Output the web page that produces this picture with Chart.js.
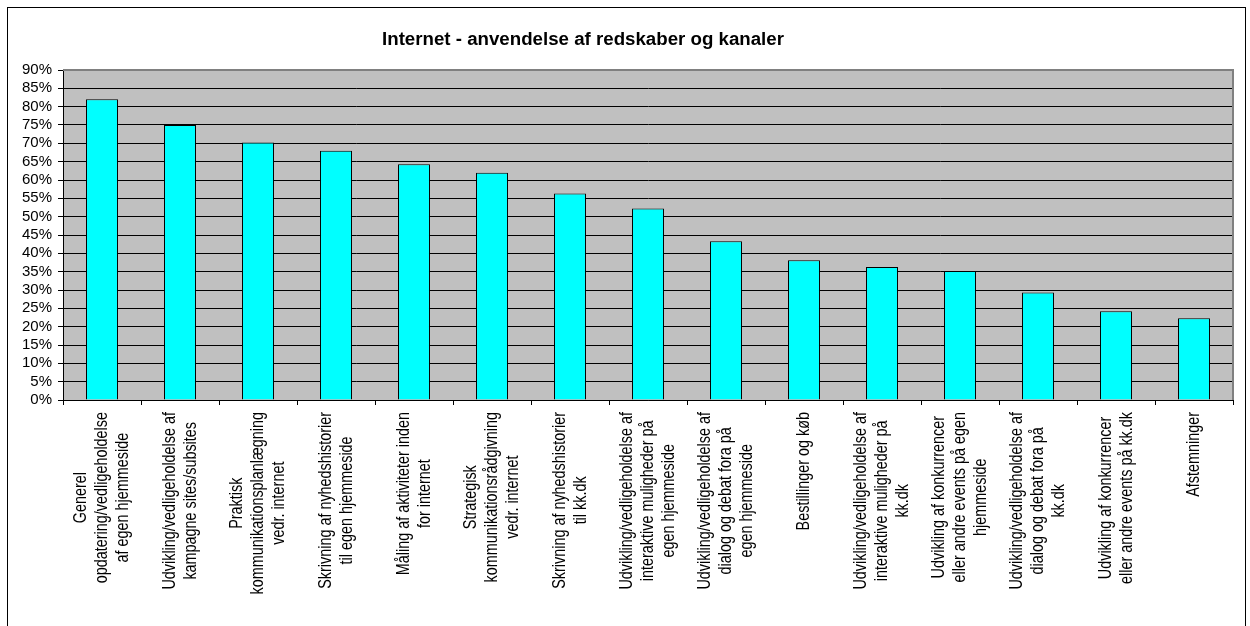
<!DOCTYPE html>
<html>
<head>
<meta charset="utf-8">
<script src="https://cdn.jsdelivr.net/npm/chart.js@4/dist/chart.umd.min.js"></script>
<style>
  html, body { margin: 0; padding: 0; background: #fff; }
  #wrap { width: 1250px; height: 626px; position: relative; }
</style>
</head>
<body>
<div id="wrap"><canvas id="c" width="1250" height="626"></canvas></div>
<script>
const chartTitle = "Internet - anvendelse af redskaber og kanaler";
const categories = [
  ["Generel", "opdatering/vedligeholdelse", "af egen hjemmeside"],
  ["Udvikling/vedligeholdelse af", "kampagne sites/subsites"],
  ["Praktisk", "kommunikationsplanlægning", "vedr. internet"],
  ["Skrivning af nyhedshistorier", "til egen hjemmeside"],
  ["Måling af aktiviteter inden", "for internet"],
  ["Strategisk", "kommunikationsrådgivning", "vedr. internet"],
  ["Skrivning af nyhedshistorier", "til kk.dk"],
  ["Udvikling/vedligeholdelse af", "interaktive muligheder på", "egen hjemmeside"],
  ["Udvikling/vedligeholdelse af", "dialog og debat fora på", "egen hjemmeside"],
  ["Bestillinger og køb"],
  ["Udvikling/vedligeholdelse af", "interaktive muligheder på", "kk.dk"],
  ["Udvikling af konkurrencer", "eller andre events på egen", "hjemmeside"],
  ["Udvikling/vedligeholdelse af", "dialog og debat fora på", "kk.dk"],
  ["Udvikling af konkurrencer", "eller andre events på kk.dk"],
  ["Afstemninger"]
];
const values = [82, 75, 70.2, 68, 64.3, 62, 56.3, 52.2, 43.3, 38.1, 36.3, 35.2, 29.3, 24.2, 22.3];
const yTickMin = 0, yTickMax = 90, yTickStep = 5;

const FONT = '"Liberation Sans", Arial, sans-serif';

const decor = {
  id: 'decor',
  beforeDraw(chart) {
    const ctx = chart.ctx, a = chart.chartArea;
    ctx.save();
    ctx.fillStyle = '#ffffff';
    ctx.fillRect(0, 0, chart.width, chart.height);
    ctx.fillStyle = '#C0C0C0';
    ctx.fillRect(a.left, a.top, a.right - a.left, a.bottom - a.top);
    ctx.restore();
  },
  afterDraw(chart) {
    const ctx = chart.ctx, a = chart.chartArea;
    ctx.save();
    ctx.strokeStyle = '#808080';
    ctx.lineWidth = 2;
    ctx.beginPath();
    ctx.moveTo(a.left, a.top);
    ctx.lineTo(a.right, a.top);
    ctx.lineTo(a.right, a.bottom);
    ctx.stroke();
    ctx.strokeStyle = '#000';
    ctx.lineWidth = 1;
    ctx.strokeRect(7.5, 7.5, 1238, 630);
    ctx.fillStyle = '#000';
    ctx.font = 'bold 18.7px ' + FONT;
    ctx.textAlign = 'center';
    ctx.textBaseline = 'alphabetic';
    ctx.fillText(chartTitle, 583, 45);
    const xs = chart.scales.x;
    ctx.font = '14.4px ' + FONT;
    ctx.textBaseline = 'middle';
    ctx.textAlign = 'center';
    const lh = 16.2, stretch = 1.3, top = a.bottom + 12;
    categories.forEach((lines, i) => {
      const cx = xs.getPixelForTick(i);
      let maxLen = 0;
      lines.forEach(l => { maxLen = Math.max(maxLen, ctx.measureText(l).width); });
      ctx.save();
      ctx.translate(cx, top + maxLen / 2);
      ctx.scale(stretch, 1);
      ctx.rotate(-Math.PI / 2);
      const n = lines.length;
      lines.forEach((l, j) => {
        ctx.fillText(l, 0, (j - (n - 1) / 2) * lh);
      });
      ctx.restore();
    });
    ctx.restore();
  }
};

new Chart(document.getElementById('c'), {
  type: 'bar',
  data: {
    labels: categories,
    datasets: [{
      data: values,
      backgroundColor: '#00FFFF',
      borderColor: '#000000',
      borderWidth: 1,
      borderSkipped: 'bottom',
      categoryPercentage: 1,
      barPercentage: 0.41
    }]
  },
  options: {
    responsive: false,
    animation: false,
    devicePixelRatio: 1,
    layout: { padding: { top: 70, right: 17, left: 0, bottom: 0 } },
    plugins: { legend: { display: false }, title: { display: false }, tooltip: { enabled: false } },
    scales: {
      x: {
        offset: true,
        grid: { offset: true, drawOnChartArea: false, drawTicks: true, tickLength: 5, color: '#000', lineWidth: 1 },
        border: { display: true, color: '#000', width: 1 },
        ticks: { display: false },
        afterFit: (s) => { s.height = 226; }
      },
      y: {
        min: yTickMin, max: yTickMax,
        grid: { color: '#000', lineWidth: 1, tickLength: 5, drawTicks: true },
        border: { display: true, color: '#000', width: 1 },
        ticks: {
          stepSize: yTickStep,
          autoSkip: false,
          maxTicksLimit: 100,
          color: '#000',
          padding: 6,
          font: { family: FONT, size: 15 },
          callback: (v) => v + '%'
        },
        afterFit: (s) => { s.width = 63; }
      }
    }
  },
  plugins: [decor]
});
</script>
</body>
</html>
